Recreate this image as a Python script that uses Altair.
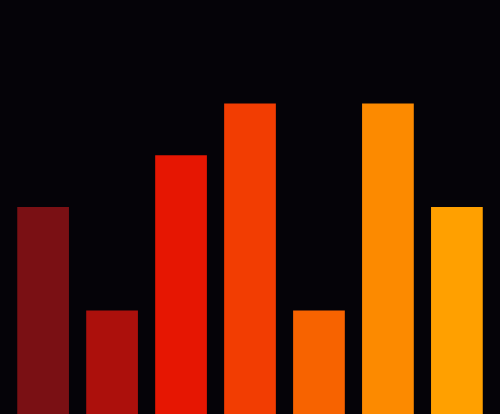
import altair as alt
import pandas as pd

categories = ["A", "B", "C", "D", "E", "F", "G"]
values = [2, 1, 2.5, 3, 1, 3, 2]
colors = ["#7A1014", "#AC100C", "#E61602", "#F23D02", "#F76300", "#FC8A00", "#FFA000"]

df = pd.DataFrame({"cat": categories, "val": values})

chart = (
    alt.Chart(df)
    .mark_bar()
    .encode(
        x=alt.X("cat:N", sort=categories, axis=None,
                scale=alt.Scale(paddingInner=0.25, paddingOuter=0.25)),
        y=alt.Y("val:Q", axis=None, scale=alt.Scale(domain=[0, 4], nice=False)),
        color=alt.Color("cat:N", legend=None,
                        scale=alt.Scale(domain=categories, range=colors)),
    )
    .properties(width=500, height=414, background="#050308", padding=0,
                autosize=alt.AutoSizeParams(type="none"))
    .configure_view(stroke=None)
)

chart.save("out.html", embed_options={"renderer": "svg", "actions": False,
                                      "defaultStyle": "body{margin:0;background:#050308;overflow:hidden}"})
